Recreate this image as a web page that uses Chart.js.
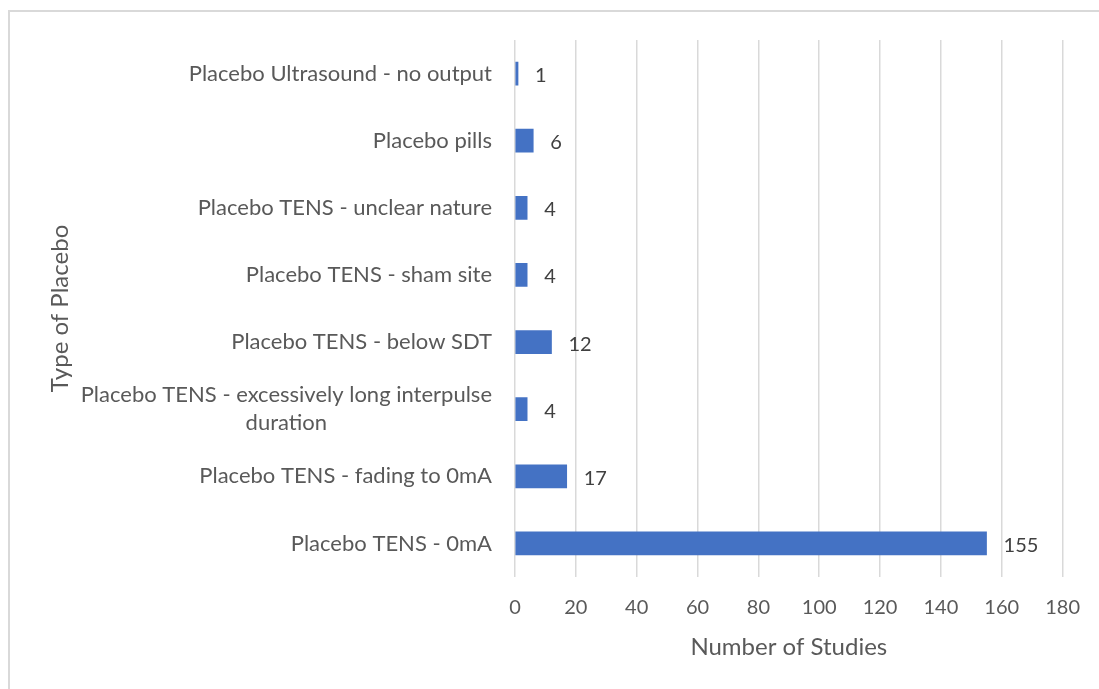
<!DOCTYPE html>
<html>
<head>
<meta charset="utf-8">
<script src="https://cdn.jsdelivr.net/npm/chart.js@4.4.1/dist/chart.umd.min.js"></script>
<style>
  html, body { margin: 0; padding: 0; background: #fff; }
  #frame {
    position: absolute; left: 8px; top: 10px; width: 1200px; height: 800px;
    border-left: 2px solid #d9d9d9; border-top: 2px solid #d9d9d9;
  }
  #wrap { position: absolute; left: 0; top: 0; width: 1099px; height: 689px; }
</style>
</head>
<body>
<div id="frame"></div>
<div id="wrap"><canvas id="placeboChart"></canvas></div>
<script>
// data
const categories = [
    "Placebo Ultrasound - no output",
    "Placebo pills",
    "Placebo TENS - unclear nature",
    "Placebo TENS - sham site",
    "Placebo TENS - below SDT",
    ["Placebo TENS - excessively long interpulse", "duration"],
    "Placebo TENS - fading to 0mA",
    "Placebo TENS - 0mA",
];
const studies = [1, 6, 4, 4, 12, 4, 17, 155];
const xTicks = [0, 20, 40, 60, 80, 100, 120, 140, 160, 180];

const FONT = "Lato, 'Open Sans', sans-serif";
const LABEL_SIZE = 22;
const wrapIndex = categories.findIndex((c) => Array.isArray(c));

// value labels at bar ends
const valueLabels = {
    id: "valueLabels",
    afterDatasetsDraw(chart) {
        const c = chart.ctx;
        const meta = chart.getDatasetMeta(0);
        c.save();
        c.font = "20px " + FONT;
        c.fillStyle = "#404040";
        c.textAlign = "left";
        c.textBaseline = "middle";
        meta.data.forEach((bar, i) => {
            c.fillText(String(studies[i]), bar.x + 17, bar.y + 2);
        });
        c.restore();
    },
};

// the two-line category label is centred line by line, like the original
const wrappedLabel = {
    id: "wrappedLabel",
    afterDraw(chart) {
        if (wrapIndex < 0) return;
        const y = chart.scales.y;
        const lines = categories[wrapIndex];
        const c = chart.ctx;
        c.save();
        c.font = LABEL_SIZE + "px " + FONT;
        c.fillStyle = "#595959";
        c.textBaseline = "middle";
        c.textAlign = "center";
        const widest = Math.max(...lines.map((l) => c.measureText(l).width));
        const right = y.right - 23;
        const cx = right - widest / 2;
        const cy = y.getPixelForTick(wrapIndex);
        const lh = 28;
        lines.forEach((l, k) => {
            c.fillText(l, cx, cy + (k - (lines.length - 1) / 2) * lh);
        });
        c.restore();
    },
};

const ctx = document.getElementById("placeboChart").getContext("2d");
new Chart(ctx, {
    type: "bar",
    data: {
        labels: categories,
        datasets: [
            {
                label: "Number of Studies",
                data: studies,
                backgroundColor: "#4472C4",
                borderWidth: 0,
                barThickness: 23,
            },
        ],
    },
    options: {
        indexAxis: "y",
        responsive: true,
        maintainAspectRatio: false,
        animation: false,
        layout: { padding: { top: 40, right: 36, left: 0, bottom: 0 } },
        plugins: {
            legend: { display: false },
            tooltip: { enabled: false },
        },
        scales: {
            x: {
                min: 0,
                max: 180,
                afterBuildTicks: (scale) => {
                    scale.ticks = xTicks.map((v) => ({ value: v }));
                },
                afterFit: (scale) => {
                    scale.height = 112;
                },
                grid: { color: "#d9d9d9", lineWidth: 1.5, drawTicks: false },
                border: { display: false },
                ticks: {
                    padding: 19,
                    color: "#595959",
                    font: { family: FONT, size: 20 },
                },
                title: {
                    display: true,
                    text: "Number of Studies",
                    color: "#595959",
                    font: { family: FONT, size: 24 },
                    padding: { bottom: 27 },
                },
            },
            y: {
                afterFit: (scale) => {
                    scale.width = 515;
                },
                grid: { display: false, drawTicks: false },
                border: { display: false },
                ticks: {
                    padding: 23,
                    color: (c) => (c.index === wrapIndex ? "rgba(0,0,0,0)" : "#595959"),
                    font: { family: FONT, size: LABEL_SIZE },
                },
                title: {
                    display: true,
                    text: "Type of Placebo",
                    color: "#595959",
                    font: { family: FONT, size: 24 },
                    padding: { top: 46 },
                },
            },
        },
    },
    plugins: [valueLabels, wrappedLabel],
});
</script>
</body>
</html>
